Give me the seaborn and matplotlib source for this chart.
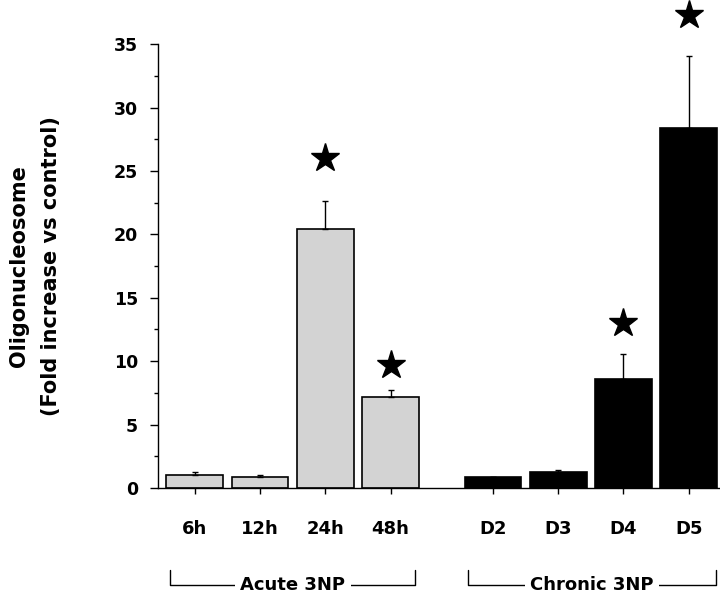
import numpy as np
import pandas as pd
import matplotlib
matplotlib.use("Agg")
import matplotlib.pyplot as plt
import matplotlib.transforms as mtransforms
import seaborn as sns

# -----------------------------------------------------------
# DATA
# -----------------------------------------------------------

labels = ["6h", "12h", "24h", "48h", "D2", "D3", "D4", "D5"]
groups = ["Acute", "Acute", "Acute", "Acute", "Chronic", "Chronic", "Chronic", "Chronic"]
positions = [0, 1, 2, 3, 4.57, 5.57, 6.57, 7.57]
fold = [1.0, 0.9, 20.4, 7.2, 0.85, 1.25, 8.6, 28.4]
sem = [0.25, 0.1, 2.2, 0.5, 0.05, 0.2, 2.0, 5.7]
star_at = [None, None, 26.0, 9.7, None, None, 13.0, 37.3]

group_names = ["Acute 3NP", "Chronic 3NP"]

df = pd.DataFrame({"pos": positions, "fold": fold, "group": groups})

# -----------------------------------------------------------
# PLOT
# -----------------------------------------------------------

sns.set_style("ticks", {
    "axes.edgecolor": "black",
    "xtick.color": "black",
    "ytick.color": "black",
    "text.color": "black",
    "axes.labelcolor": "black",
})
plt.rcParams["font.family"] = ["DejaVu Sans"]

fig = plt.figure(figsize=(7.2, 5.98), dpi=100)
ax = fig.add_axes([0.219, 0.184, 0.781, 0.742])

sns.barplot(
    data=df, x="pos", y="fold", hue="group",
    palette={"Acute": "#d3d3d3", "Chronic": "black"},
    native_scale=True, dodge=False, width=0.87,
    edgecolor="black", linewidth=1.2, errorbar=None,
    legend=False, ax=ax
)

# one-sided error bars
ax.errorbar(
    positions, fold, yerr=[np.zeros(len(sem)), sem],
    fmt="none", ecolor="black", elinewidth=1.0,
    capsize=2.5, capthick=1.0, zorder=1
)

# significance stars
for p, s in zip(positions, star_at):
    if s is not None:
        ax.plot(p, s, marker="*", markersize=21, color="black",
                clip_on=False, zorder=5)

ax.set_xlim(-0.57, 8.05)
ax.set_ylim(0, 35)
ax.set_yticks(np.arange(0, 36, 5))
ax.set_yticks(np.arange(2.5, 35, 5), minor=True)
ax.set_xticks(positions)
ax.set_xticklabels(labels)
ax.set_xlabel("")
ax.set_ylabel("")

for t in ax.get_yticklabels():
    t.set_fontweight("bold")
    t.set_fontsize(12.5)
for t in ax.get_xticklabels():
    t.set_fontweight("bold")
    t.set_fontsize(13)

ax.tick_params(axis="y", which="major", length=6, width=1, direction="out", pad=8)
ax.tick_params(axis="y", which="minor", length=3, width=1, direction="out")
ax.tick_params(axis="x", length=4, width=1, direction="out", pad=19)

sns.despine(ax=ax)
ax.spines["left"].set_linewidth(1)
ax.spines["bottom"].set_linewidth(1)

ax.text(-0.218, 0.5, "Oligonucleosome\n(Fold increase vs control)",
        transform=ax.transAxes, rotation=90, ha="center", va="center",
        fontsize=15, fontweight="bold", linespacing=1.75)

# group brackets under the axis
trans = mtransforms.blended_transform_factory(ax.transData, ax.transAxes)
spans = [(positions[0] - 0.38, positions[3] + 0.38),
         (positions[4] - 0.38, positions[7] + 0.42)]
y_line, y_end = -0.219, -0.185
for (x0, x1), name in zip(spans, group_names):
    ax.plot([x0, x0, x1, x1], [y_end, y_line, y_line, y_end],
            color="black", lw=1, transform=trans, clip_on=False)
    ax.text((x0 + x1) / 2, y_line, name, transform=trans,
            ha="center", va="center", fontsize=13, fontweight="bold",
            bbox=dict(facecolor="white", edgecolor="none", pad=4))

fig.savefig("out.png", dpi=100)
